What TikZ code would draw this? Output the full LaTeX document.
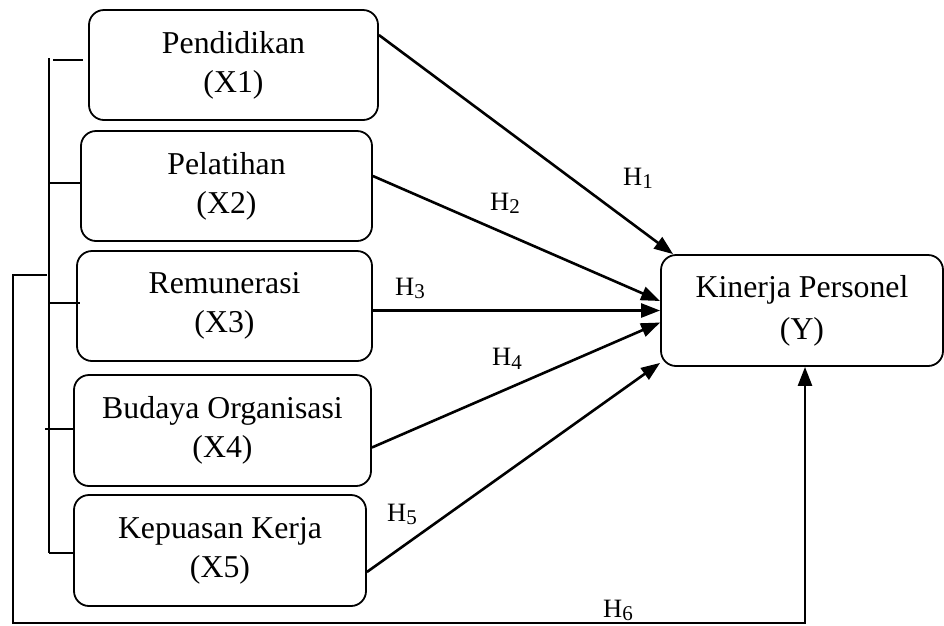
\documentclass[tikz,border=0pt]{standalone}
\usepackage{fontspec}
\setmainfont{Liberation Serif}
\usetikzlibrary{arrows.meta,calc}
\newcommand\hsub[1]{\raisebox{-3.5pt}{\fontsize{21}{22}\selectfont #1}}
\begin{document}
\begin{tikzpicture}[x=1pt,y=-1pt,
  box/.style={draw,line width=1.8pt,rounded corners=15pt,align=center,inner sep=0pt,
    font=\fontsize{31.8}{39}\selectfont},
  conn/.style={line width=2.6pt},
  arr/.style={conn,-{Triangle[length=19pt,width=14pt]}},
  hlab/.style={anchor=base west,inner sep=0pt,font=\fontsize{26.5}{30}\selectfont}]
\useasboundingbox (0,0) rectangle (944,625);

\node[box,minimum width=289pt,minimum height=110pt] (x1) at (233.5,65) {Pendidikan\\(X1)};
\node[box,minimum width=291pt,minimum height=110pt] (x2) at (226.5,186) {Pelatihan\\(X2)};
\node[box,minimum width=295pt,minimum height=110pt] (x3) at (224.5,306) {Remunerasi\\(X3)};
\node[box,minimum width=297pt,minimum height=111pt] (x4) at (222.5,430.5) {Budaya Organisasi\\(X4)};
\node[box,minimum width=292pt,minimum height=111pt] (x5) at (220,550.5) {Kepuasan Kerja\\(X5)};
\node[box,minimum width=282pt,minimum height=111pt,font=\fontsize{31.8}{42}\selectfont] (y) at (802,310.5) {Kinerja Personel\\(Y)};

% arrows
\draw[arr] ([yshift=30pt]x1.east) -- ([xshift=13pt]y.north west);
\draw[arr] ([yshift=10pt]x2.east) -- ([yshift=9.5pt]y.west);
\draw[arr] (x3.east |- y.west) -- (y.west);
\draw[arr] ([yshift=-17pt]x4.east) -- ([yshift=-12pt]y.west);
\draw[arr] ([yshift=-21.5pt]x5.east) -- ([yshift=4pt]y.south west);

% H6 path
\coordinate (h6s) at (47,275);
\coordinate (h6b) at (13,623);
\draw[arr] (h6s) -| (h6b) -| ([xshift=3pt]y.south);

% left bracket
\coordinate (bt) at (49,58);
\coordinate (bb) at (49,553);
\draw[conn] (bt) -- (bb);
\draw[conn] ([xshift=-35pt,yshift=5pt]x1.west) -- ([xshift=-5pt,yshift=5pt]x1.west);
\coordinate (s2) at ([yshift=3pt]x2.west);
\coordinate (s3) at ([yshift=3pt,xshift=4pt]x3.west);
\coordinate (s4) at ([yshift=1.5pt]x4.west);
\coordinate (s5) at ([yshift=-2.5pt]x5.west);
\draw[conn] (bt |- s2) -- (s2);
\draw[conn] (bt |- s3) -- (s3);
\draw[conn] ($(bt |- s4)+(-4,0)$) -- (s4);
\draw[conn] (bt |- s5) -- (s5);

% labels
\node[hlab] (l1) at (623,185) {H\hsub{1}};
\node[hlab] (l2) at (490,210) {H\hsub{2}};
\node[hlab] (l3) at (395,295) {H\hsub{3}};
\node[hlab] (l4) at (492,365.5) {H\hsub{4}};
\node[hlab] (l5) at (387,521) {H\hsub{5}};
\node[hlab] (l6) at (603,617) {H\hsub{6}};
\end{tikzpicture}
\end{document}
